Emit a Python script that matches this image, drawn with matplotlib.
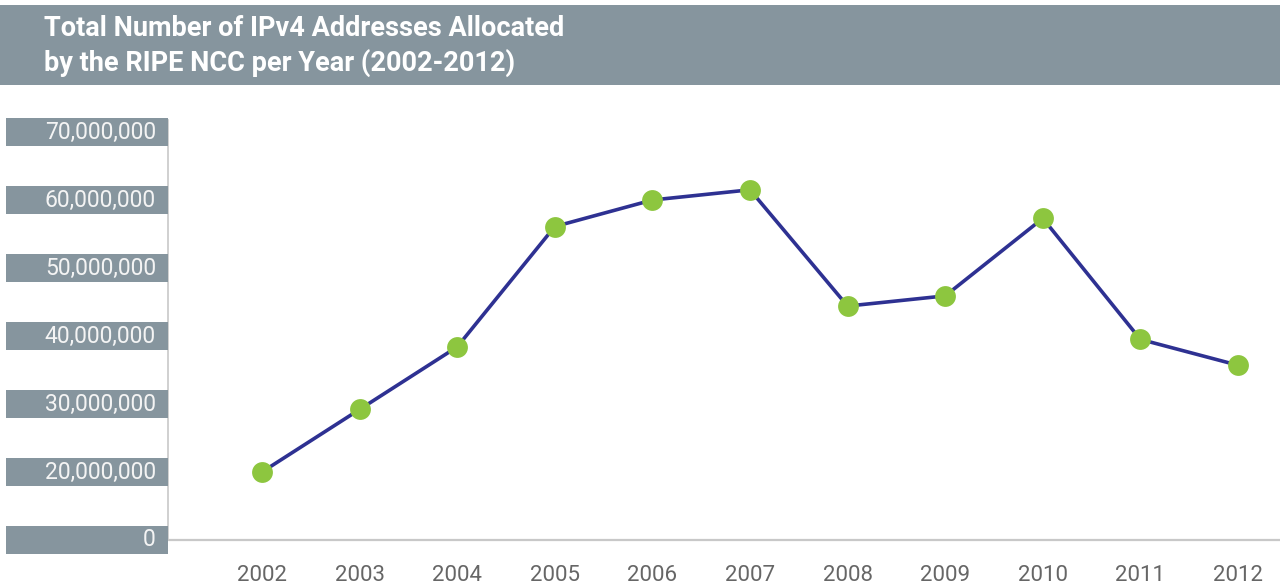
import matplotlib
matplotlib.use("Agg")
import matplotlib.pyplot as plt
from matplotlib.patches import Rectangle
from matplotlib.transforms import blended_transform_factory

years = [2002, 2003, 2004, 2005, 2006, 2007, 2008, 2009, 2010, 2011, 2012]
allocated = [20.0e6, 29.2e6, 38.4e6, 56.1e6, 60.0e6, 61.5e6, 44.4e6, 45.9e6, 57.3e6, 39.5e6, 35.7e6]
tick_positions = [10e6, 20e6, 30e6, 40e6, 50e6, 60e6, 70e6]
tick_labels = ["0", "20,000,000", "30,000,000", "40,000,000", "50,000,000", "60,000,000", "70,000,000"]
title_lines = ["Total Number of IPv4 Addresses Allocated", "by the RIPE NCC per Year (2002-2012)"]

W, H = 1280, 585
fig = plt.figure(figsize=(W / 100, H / 100), dpi=100)
fig.patch.set_facecolor("white")

banner = "#86959e"
fig.patches.append(Rectangle((0, 1 - 85 / H), 1, 80 / H, transform=fig.transFigure,
                             facecolor=banner, edgecolor="none"))
fig.text(44 / W, 1 - 28 / H, title_lines[0], color="white", fontsize=19.5, fontweight="bold",
         family="Roboto", va="center", ha="left")
fig.text(44 / W, 1 - 63 / H, title_lines[1], color="white", fontsize=19.5, fontweight="bold",
         family="Roboto", va="center", ha="left")

ax_left, ax_right, ax_bottom, ax_top = 168, 1280, 540, 120
ax = fig.add_axes([ax_left / W, 1 - ax_bottom / H, (ax_right - ax_left) / W, (ax_bottom - ax_top) / H])
px_per_unit = 68 / 10e6
ax.set_ylim(10e6, 10e6 + (ax_bottom - ax_top) / px_per_unit)
x_per_px = 1 / 97.6
ax.set_xlim(2002 - (262 - ax_left) * x_per_px, 2012 + (ax_right - 1238) * x_per_px)

for s in ["top", "right"]:
    ax.spines[s].set_visible(False)
ax.spines["left"].set_color("#c8c8c8")
ax.spines["bottom"].set_color("#c8c8c8")
ax.spines["left"].set_linewidth(1.2)
ax.spines["bottom"].set_linewidth(1.6)

ax.plot(years, allocated, color="#2e3192", linewidth=2.6, zorder=2)
ax.plot(years, allocated, linestyle="none", marker="o", markersize=15,
        markerfacecolor="#8dc63f", markeredgecolor="none", zorder=3)

ax.set_xticks(years)
ax.set_xticklabels([str(y) for y in years], fontsize=16, color="#666666", family="Roboto")
ax.tick_params(axis="x", length=0, pad=18)
ax.set_yticks([])

trans = blended_transform_factory(fig.transFigure, ax.transData)
box_h = 28 / px_per_unit
for pos, lab in zip(tick_positions, tick_labels):
    r = Rectangle((6 / W, pos - box_h / 2), (ax_left - 6) / W, box_h, transform=trans,
                  facecolor=banner, edgecolor="none", clip_on=False, zorder=1)
    fig.patches.append(r)
    fig.text(156 / W, pos, lab, transform=trans, ha="right", va="center",
             fontsize=16.5, color="#f4f4f4", family="Roboto")

fig.savefig("out.png", dpi=100)
